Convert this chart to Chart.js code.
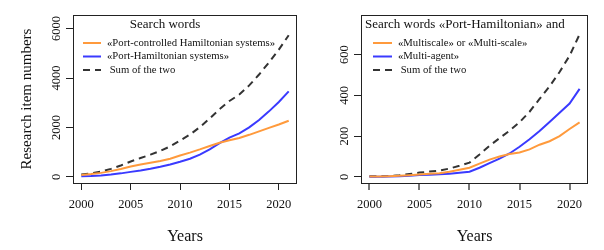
<!DOCTYPE html>
<html>
<head>
<meta charset="utf-8">
<script src="https://cdn.jsdelivr.net/npm/chart.js@4"></script>
<style>
  html, body { margin: 0; padding: 0; background: #fff; }
  .wrap { display: flex; width: 604px; height: 250px; }
  canvas { display: block; }
</style>
</head>
<body>
<div class="wrap">
  <canvas id="graficoEsq" width="302" height="250"></canvas>
  <canvas id="graficoDir" width="302" height="250"></canvas>
</div>
<script>
// Years (x axis)
const anos = [2000, 2001, 2002, 2003, 2004, 2005, 2006, 2007, 2008, 2009, 2010,
              2011, 2012, 2013, 2014, 2015, 2016, 2017, 2018, 2019, 2020, 2021];
const xTicks = [2000, 2005, 2010, 2015, 2020];

// Left panel
const portControlled = [70, 110, 160, 230, 320, 420, 500, 570, 640, 730, 860,
                        980, 1110, 1250, 1380, 1480, 1570, 1700, 1840, 1980, 2120, 2270];
const portHamiltonian = [20, 30, 50, 90, 140, 200, 260, 330, 410, 500, 610,
                         730, 900, 1110, 1360, 1590, 1760, 2000, 2300, 2650, 3030, 3460];
const somaEsq = [90, 140, 210, 320, 460, 620, 760, 900, 1050, 1230, 1470,
                 1710, 2010, 2360, 2740, 3070, 3330, 3700, 4140, 4630, 5150, 5730];
const yTicksEsq = [0, 2000, 4000, 6000];

// Right panel
const multiscale = [2, 2, 3, 5, 8, 12, 15, 18, 25, 35, 45,
                    65, 85, 100, 112, 120, 135, 158, 175, 200, 235, 268];
const multiAgent = [1, 1, 2, 3, 6, 9, 11, 13, 16, 20, 25,
                    45, 68, 90, 115, 148, 185, 225, 270, 315, 360, 432];
const somaDir = [3, 3, 5, 8, 14, 21, 26, 31, 41, 55, 70,
                 110, 153, 190, 227, 268, 320, 383, 445, 515, 595, 700];
const yTicksDir = [0, 200, 400, 600];

const serif = 'Liberation Serif, Times New Roman, serif';
const laranja = '#ff9a3c';
const azul = '#3a3aff';
const cinza = '#333333';

const pontos = vals => anos.map((a, i) => ({ x: a, y: vals[i] }));

// box around the plot area + legend inside, R style
const caixaLegenda = {
    id: 'caixaLegenda',
    afterDraw(chart, args, opts) {
        const { ctx, chartArea: a } = chart;
        ctx.save();
        ctx.strokeStyle = '#222';
        ctx.lineWidth = 1;
        ctx.strokeRect(a.left + 0.5, a.top + 0.5, a.right - a.left - 1, a.bottom - a.top);

        ctx.fillStyle = '#111';
        ctx.font = '13px ' + serif;
        ctx.textBaseline = 'middle';
        ctx.textAlign = opts.titleAlign;
        ctx.fillText(opts.title, opts.titleX, opts.titleY);

        ctx.font = '10.7px ' + serif;
        ctx.textAlign = 'left';
        chart.data.datasets.forEach((ds, i) => {
            const y = opts.rowY + i * opts.rowGap;
            ctx.strokeStyle = ds.borderColor;
            ctx.lineWidth = 2;
            ctx.setLineDash(ds.borderDash || []);
            ctx.beginPath();
            ctx.moveTo(opts.lineX, y);
            ctx.lineTo(opts.lineX + opts.lineW, y);
            ctx.stroke();
            ctx.setLineDash([]);
            ctx.fillText(ds.label, opts.textX, y);
        });
        ctx.restore();
    }
};

function grafico(id, series, nomes, yTicks, yMin, yMax, ytitulo, leg, pad, yPad, xTickCor) {
    const cores = [laranja, azul, cinza];
    return new Chart(document.getElementById(id), {
        type: 'line',
        data: {
            datasets: series.map((s, i) => ({
                label: nomes[i],
                data: pontos(s),
                borderColor: cores[i],
                borderWidth: 2,
                borderDash: i === 2 ? [7, 5] : [],
                pointRadius: 0,
                tension: 0
            }))
        },
        options: {
            responsive: false,
            animation: false,
            layout: { padding: pad },
            plugins: { legend: { display: false }, tooltip: { enabled: false }, caixaLegenda: leg },
            scales: {
                x: {
                    type: 'linear',
                    min: 1999.16,
                    max: 2021.84,
                    afterBuildTicks: s => { s.ticks = xTicks.map(v => ({ value: v })); },
                    afterFit: s => { s.height = 67; },
                    border: { display: false },
                    grid: { drawOnChartArea: false, drawTicks: true, tickLength: 7, color: xTickCor, lineWidth: xTickCor === '#222' ? 1 : 2 },
                    ticks: { color: '#111', font: { family: serif, size: 12.5 }, padding: 7, maxRotation: 0, callback: v => String(v) },
                    title: { display: true, text: 'Years', color: '#111', font: { family: serif, size: 16 }, padding: { top: 0, bottom: 4 } }
                },
                y: {
                    min: yMin,
                    max: yMax,
                    afterBuildTicks: s => { s.ticks = yTicks.map(v => ({ value: v })); },
                    afterFit: s => { s.width = pad.yWidth; },
                    border: { display: false },
                    grid: { drawOnChartArea: false, drawTicks: true, tickLength: 7, color: '#222' },
                    ticks: { color: '#111', font: { family: serif, size: 12.5 }, padding: yPad, minRotation: 90, maxRotation: 90, crossAlign: 'center', callback: v => String(v) },
                    title: { display: ytitulo !== '', text: ytitulo, color: '#111', font: { family: serif, size: 15 }, padding: { top: 18, bottom: 0 } }
                }
            }
        },
        plugins: [caixaLegenda]
    });
}

grafico('graficoEsq', [portControlled, portHamiltonian, somaEsq],
    ['\u00abPort-controlled Hamiltonian systems\u00bb', '\u00abPort-Hamiltonian systems\u00bb', ' Sum of the two'],
    yTicksEsq, -250, 6550, 'Research item numbers',
    { title: 'Search words', titleAlign: 'center', titleX: 165, titleY: 25, rowY: 43, rowGap: 13.5, lineX: 83, lineW: 18, textX: 107 },
    { left: 0, top: 15, right: 5, bottom: 0, yWidth: 73 }, -3, '#222');

grafico('graficoDir', [multiscale, multiAgent, somaDir],
    ['\u00abMultiscale\u00bb or \u00abMulti-scale\u00bb', '\u00abMulti-agent\u00bb', ' Sum of the two'],
    yTicksDir, -30, 795, '',
    { title: 'Search words \u00abPort-Hamiltonian\u00bb and', titleAlign: 'left', titleX: 63, titleY: 25, rowY: 43, rowGap: 13.5, lineX: 71, lineW: 19, textX: 96 },
    { left: 0, top: 15, right: 16, bottom: 0, yWidth: 59 }, 0, '#777');
</script>
</body>
</html>
